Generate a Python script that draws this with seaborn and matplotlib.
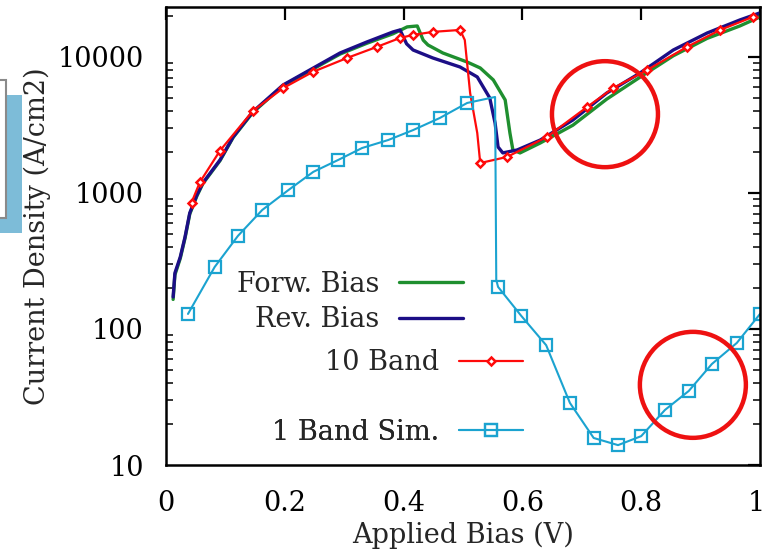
import numpy as np
import pandas as pd
import seaborn as sns
import matplotlib
matplotlib.use("Agg")
import matplotlib.pyplot as plt
from matplotlib.patches import Ellipse, Rectangle
from matplotlib.transforms import ScaledTranslation
from matplotlib.ticker import FixedLocator, FixedFormatter, LogLocator, NullFormatter

# ---- measured current density vs applied bias ----
forw_x = [0.012, 0.015, 0.024, 0.032, 0.040, 0.052, 0.062, 0.091, 0.113, 0.146, 0.197, 0.242,
          0.293, 0.338, 0.382, 0.406, 0.423, 0.433, 0.441, 0.466, 0.507, 0.529, 0.551, 0.571,
          0.579, 0.584, 0.596, 0.630, 0.685, 0.742, 0.798, 0.854, 0.911, 0.966, 1.000]
forw_y = [165, 250, 330, 465, 700, 950, 1170, 1730, 2560, 3900, 6150, 7900,
          10500, 12600, 14800, 16640, 16900, 13300, 12250, 10700, 9180, 8300, 6780, 4830,
          2760, 2070, 1970, 2330, 3150, 4900, 7100, 10200, 13700, 16900, 19700]

rev_x = [0.012, 0.015, 0.024, 0.032, 0.040, 0.052, 0.062, 0.091, 0.113, 0.146, 0.197, 0.242,
         0.293, 0.338, 0.382, 0.394, 0.405, 0.416, 0.449, 0.495, 0.524, 0.545, 0.554, 0.559,
         0.567, 0.591, 0.630, 0.685, 0.742, 0.798, 0.854, 0.911, 0.966, 1.000]
rev_y = [172, 258, 338, 474, 713, 966, 1185, 1750, 2580, 3950, 6220, 8020,
         10700, 12880, 15270, 15800, 12500, 11250, 9840, 8440, 7130, 5000, 3270, 2180,
         1970, 2070, 2450, 3440, 5430, 7620, 11250, 15000, 18700, 21100]

band10_x = [0.043, 0.057, 0.091, 0.146, 0.197, 0.247, 0.305, 0.355, 0.394, 0.416, 0.449, 0.495,
            0.503, 0.512, 0.524, 0.529, 0.574, 0.641, 0.709, 0.753, 0.810, 0.877, 0.933, 0.988]
band10_y = [850, 1200, 2050, 4000, 5900, 7760, 9840, 11860, 13800, 14520, 15290, 15800,
            13330, 5430, 2760, 1660, 1840, 2580, 4290, 5910, 8020, 11860, 15800, 19700]

band1_x = [0.037, 0.082, 0.121, 0.162, 0.206, 0.248, 0.290, 0.330, 0.374, 0.416, 0.461, 0.507,
           0.554, 0.556, 0.559, 0.598, 0.640, 0.680, 0.720, 0.761, 0.800, 0.840, 0.880, 0.919,
           0.961, 1.000]
band1_y = [129, 286, 483, 750, 1050, 1430, 1750, 2140, 2450, 2900, 3560, 4590,
           5080, 230, 204, 125, 76, 28.6, 15.8, 14.0, 16.3, 25.4, 35.0, 55.3,
           79.0, 129]

labels = ["Forw. Bias", "Rev. Bias", "10 Band", "1 Band Sim."]
x_ticks = [0, 0.2, 0.4, 0.6, 0.8, 1.0]
x_tick_labels = ["0", "0.2", "0.4", "0.6", "0.8", "1"]
y_ticks = [10, 100, 1000, 10000]
y_tick_labels = ["10", "100", "1000", "10000"]

GREEN = "#1f8f2f"
NAVY = "#1c0e86"
RED = "#ff0a0a"
CYAN = "#1ba3d0"

sns.set_style("white")
plt.rcParams["font.family"] = ["DejaVu Serif"]
FS = 19.5

fig = plt.figure(figsize=(7.66, 5.51), dpi=100)
ax = fig.add_axes([166 / 766, 1 - 465 / 551, 594 / 766, 458 / 551])

def series(x, y):
    return pd.DataFrame({"bias": x, "j": y})

sns.lineplot(data=series(forw_x, forw_y), x="bias", y="j", ax=ax, color=GREEN,
             lw=2.4, sort=False, estimator=None, legend=False, label=labels[0])
sns.lineplot(data=series(rev_x, rev_y), x="bias", y="j", ax=ax, color=NAVY,
             lw=2.4, sort=False, estimator=None, legend=False, label=labels[1])
red_marks = [i for i in range(len(band10_x)) if i not in (12, 13, 14)]
sns.lineplot(data=series(band10_x, band10_y), x="bias", y="j", ax=ax, color=RED,
             lw=1.6, sort=False, estimator=None, legend=False, label=labels[2],
             marker="D", markersize=4.5, markerfacecolor="white", markeredgecolor=RED,
             markeredgewidth=1.8, markevery=red_marks)
cyan_marks = [i for i in range(len(band1_x)) if i not in (12, 13)]
sns.lineplot(data=series(band1_x, band1_y), x="bias", y="j", ax=ax, color=CYAN,
             lw=1.5, sort=False, estimator=None, legend=False, label=labels[3],
             marker="s", markersize=8, markerfacecolor="none", markeredgecolor=CYAN,
             markeredgewidth=1.6, markevery=cyan_marks)

ax.set_yscale("log")
ax.set_xlim(0, 1)
ax.set_ylim(10, 23300)

ax.xaxis.set_major_locator(FixedLocator(x_ticks))
ax.xaxis.set_major_formatter(FixedFormatter(x_tick_labels))
ax.yaxis.set_major_locator(FixedLocator(y_ticks))
ax.yaxis.set_major_formatter(FixedFormatter(y_tick_labels))
ax.yaxis.set_minor_locator(LogLocator(base=10, subs=np.arange(2, 10)))
ax.yaxis.set_minor_formatter(NullFormatter())

ax.tick_params(which="major", direction="in", length=9, width=1.6, top=True, right=True,
               labelsize=FS, color="black", labelcolor="black")
ax.tick_params(axis="x", which="major", pad=18)
ax.tick_params(axis="y", which="major", pad=16)
ax.tick_params(axis="y", which="minor", direction="in", length=5, width=1.3, left=True, right=True)
for s in ax.spines.values():
    s.set_color("black")
    s.set_linewidth(1.8)

# keep the last x tick label inside the canvas
fig.canvas.draw()
last = ax.get_xticklabels()[-1]
last.set_transform(last.get_transform() + ScaledTranslation(-4 / 100, 0, fig.dpi_scale_trans))

ax.set_xlabel("Applied Bias (V)", fontsize=FS, labelpad=3)
ax.set_ylabel("Current Density (A/cm2)", fontsize=FS, labelpad=5)

# key: one entry per box, text to the left of its sample line
lines = {ln.get_label(): ln for ln in ax.get_lines()}
key_spots = [(0.50, 0.395), (0.50, 0.317), (0.601, 0.223), (0.601, 0.072)]
for lab, (kx, ky) in zip(labels, key_spots):
    leg = ax.legend(handles=[lines[lab]], labels=[lab], loc="center right",
                    bbox_to_anchor=(kx, ky), bbox_transform=ax.transAxes,
                    frameon=False, markerfirst=False, fontsize=FS,
                    handlelength=2.35, handletextpad=0.75, borderpad=0, borderaxespad=0)
    ax.add_artist(leg)

# highlight rings
for cx, cy in [(0.739, 0.766), (0.887, 0.175)]:
    ax.add_patch(Ellipse((cx, cy), 106 / 594, 106 / 458, transform=ax.transAxes,
                         fill=False, edgecolor="#ee1111", lw=3.2, clip_on=False, zorder=10))

# slide fragments at the left edge
fig.add_artist(Rectangle((0, 1 - 233 / 551), 22 / 766, 138 / 551, transform=fig.transFigure,
                         facecolor="#7dbcd8", edgecolor="none", zorder=0))
fig.add_artist(Rectangle((-0.01, 1 - 218 / 551), 6 / 766 + 0.01, 138 / 551, transform=fig.transFigure,
                         facecolor="white", edgecolor="#8a8a8a", lw=1.5, zorder=1))

fig.savefig("out.png", dpi=100)
